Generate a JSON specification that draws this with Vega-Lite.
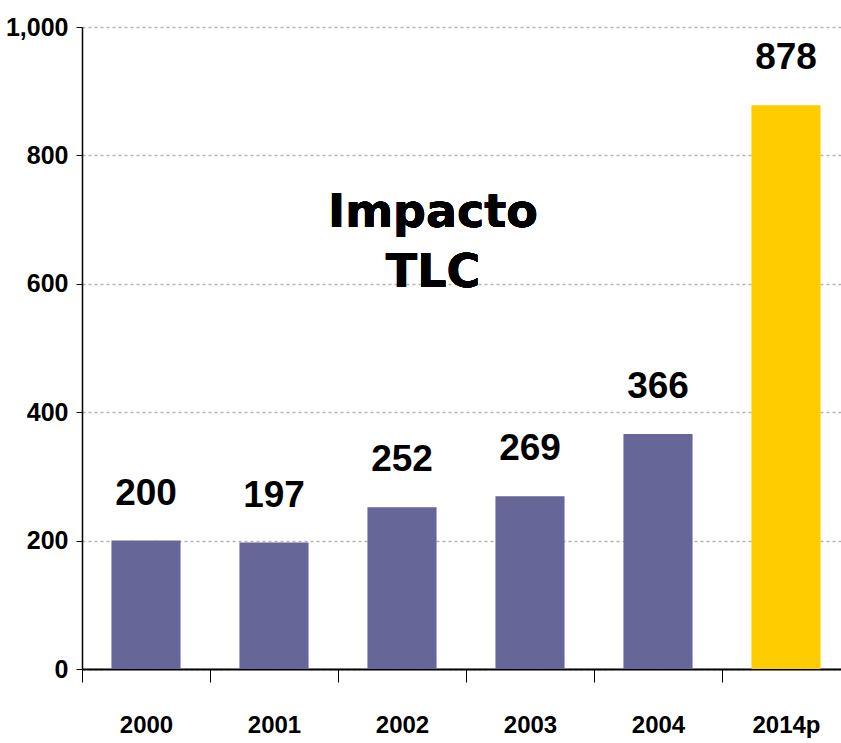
{
  "$schema": "https://vega.github.io/schema/vega-lite/v6.json",
  "width": 768,
  "height": 642,
  "autosize": {"type": "none"},
  "padding": {"left": 82, "top": 27, "right": 0, "bottom": 74},
  "background": "white",
  "config": {"view": {"stroke": null}},
  "data": {
    "values": [
      {"year": "2000", "value": 200, "type": "hist"},
      {"year": "2001", "value": 197, "type": "hist"},
      {"year": "2002", "value": 252, "type": "hist"},
      {"year": "2003", "value": 269, "type": "hist"},
      {"year": "2004", "value": 366, "type": "hist"},
      {"year": "2014p", "value": 878, "type": "proj"}
    ]
  },
  "encoding": {
    "x": {
      "field": "year",
      "type": "ordinal",
      "sort": null,
      "scale": {"paddingInner": 0.46, "paddingOuter": 0.23},
      "axis": {
        "title": null,
        "labelAngle": 0,
        "domainColor": "black",
        "domainWidth": 2,
        "tickColor": "black",
        "tickWidth": 1,
        "tickSize": 13,
        "tickOffset": -64,
        "labelOffset": 64,
        "labelFont": "Liberation Sans, Arial, sans-serif",
        "labelFontSize": 24,
        "labelFontWeight": "bold",
        "labelColor": "black",
        "labelPadding": 31
      }
    },
    "y": {
      "field": "value",
      "type": "quantitative",
      "scale": {"domain": [0, 1000], "nice": false},
      "axis": {
        "title": null,
        "values": [0, 200, 400, 600, 800, 1000],
        "format": ",d",
        "grid": true,
        "gridColor": "#b3b3b3",
        "gridDash": [3, 3],
        "gridWidth": 1.5,
        "domainColor": "black",
        "domainWidth": 1.5,
        "tickColor": "black",
        "tickSize": 6,
        "tickWidth": 1,
        "labelFont": "Liberation Sans, Arial, sans-serif",
        "labelFontSize": 25,
        "labelFontWeight": "bold",
        "labelColor": "black",
        "labelPadding": 8
      }
    }
  },
  "layer": [
    {
      "mark": {"type": "bar"},
      "encoding": {
        "color": {
          "field": "type",
          "type": "nominal",
          "scale": {"domain": ["hist", "proj"], "range": ["#666699", "#FFCC00"]},
          "legend": null
        }
      }
    },
    {
      "mark": {
        "type": "text",
        "baseline": "alphabetic",
        "dy": -36,
        "font": "Liberation Sans, Arial, sans-serif",
        "fontSize": 37,
        "fontWeight": "bold",
        "color": "black"
      },
      "encoding": {"text": {"field": "value", "type": "quantitative"}}
    },
    {
      "mark": {
        "type": "text",
        "text": ["Impacto", "TLC"],
        "font": "DejaVu Sans",
        "fontWeight": "bold",
        "fontSize": 46,
        "lineHeight": 60,
        "baseline": "alphabetic",
        "align": "center",
        "dx": 31,
        "color": "black"
      },
      "encoding": {
        "x": {"datum": "2002"},
        "y": {"datum": 688}
      }
    }
  ]
}
